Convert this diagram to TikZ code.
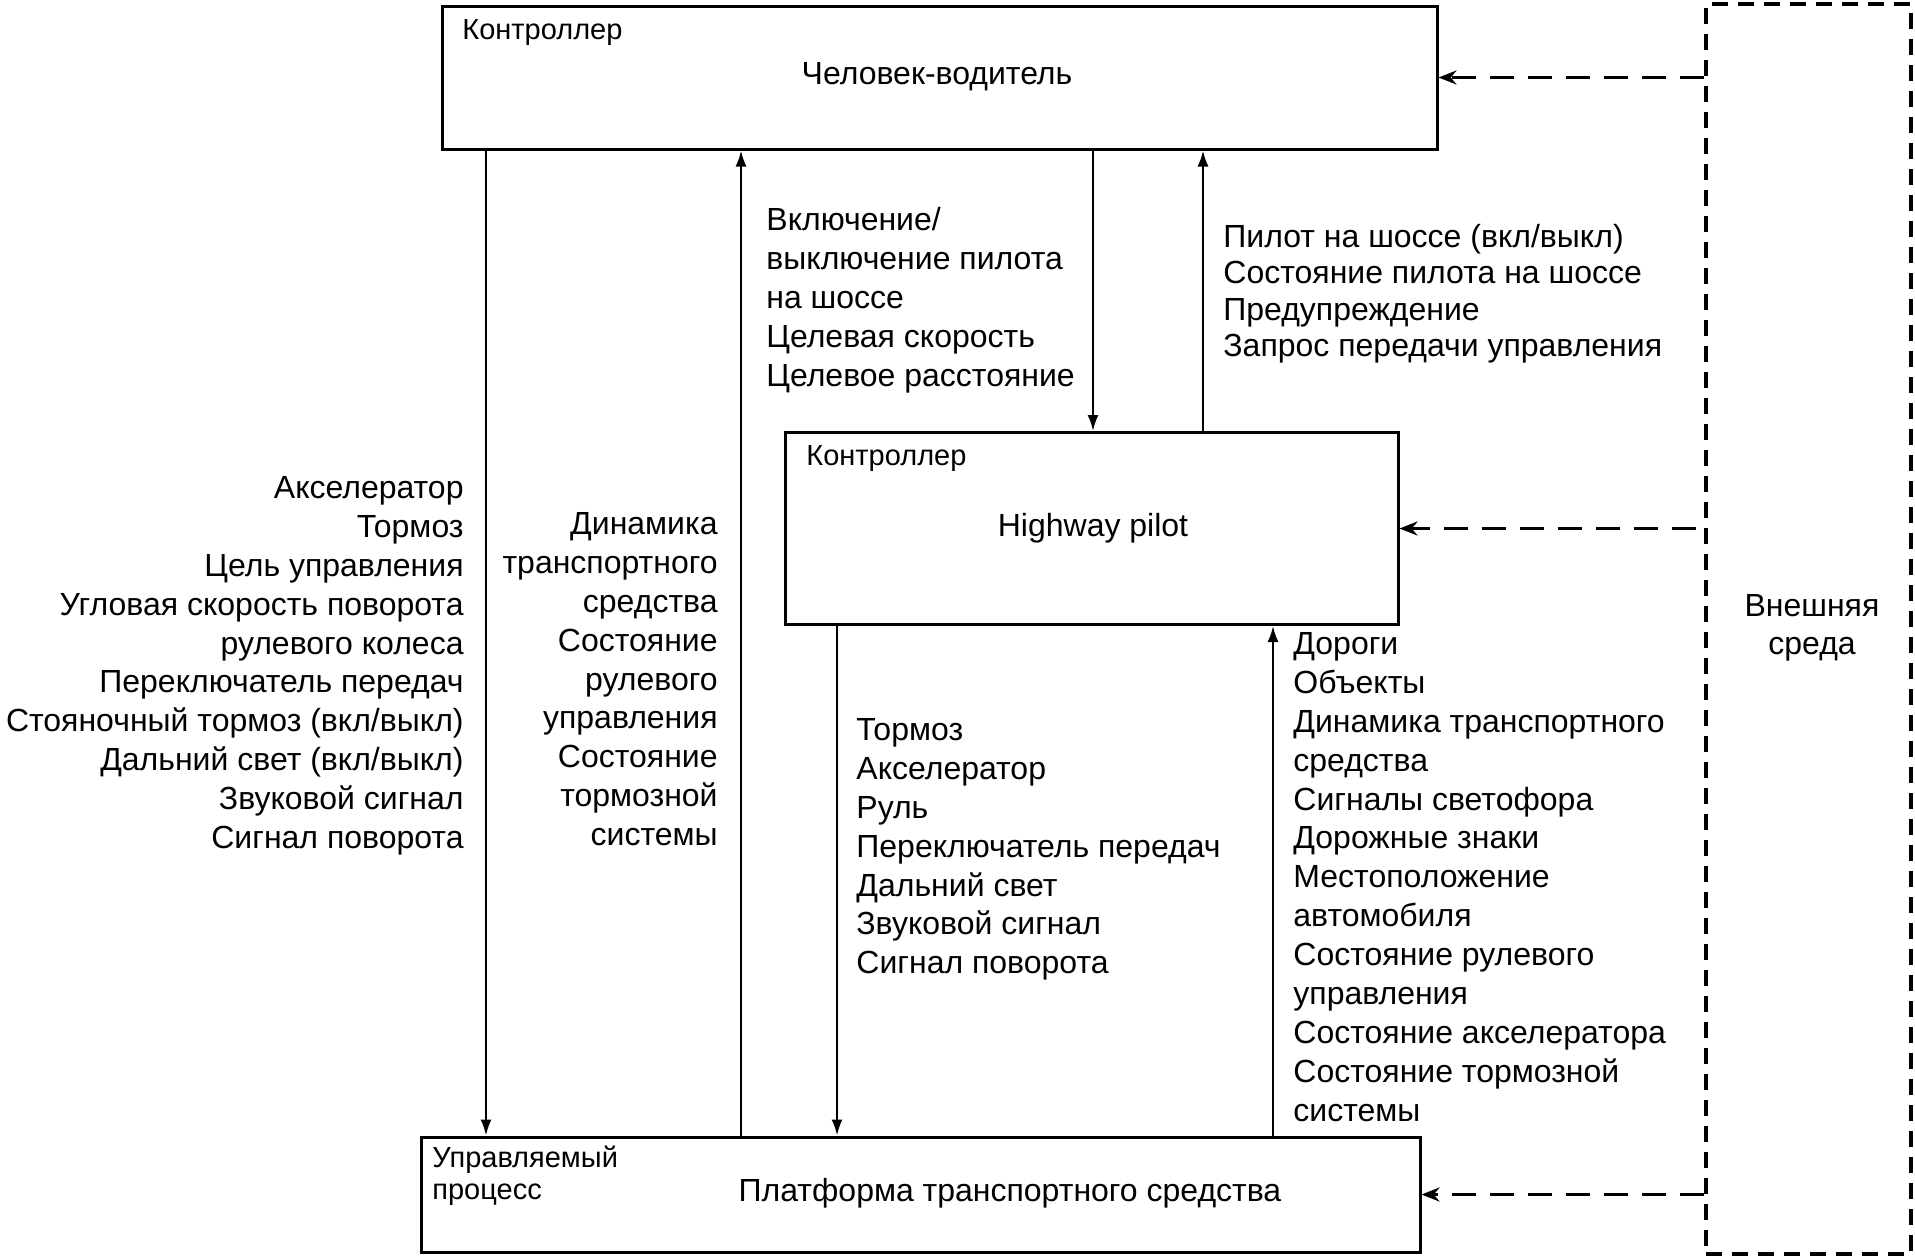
\documentclass[tikz,border=0pt]{standalone}
\usepackage{fontspec}
\setmainfont{Liberation Sans}
\usetikzlibrary{arrows.meta}
\begin{document}
\begin{tikzpicture}[x=0.5pt,y=-0.5pt,
  box/.style={draw, line width=1.5pt, inner sep=0pt},
  envbox/.style={draw, line width=1.6pt, inner sep=0pt, dash pattern=on 8pt off 5pt},
  arr/.style={line width=1.1pt, -{Latex[length=8pt,width=5.5pt]}},
  darr/.style={line width=1.6pt, dash pattern=on 12pt off 7pt, -{Stealth[length=9pt,width=7pt]}},
  lbl/.style={font=\fontsize{16}{19.45}\selectfont, inner sep=0pt},
  small/.style={font=\fontsize{14.5}{16}\selectfont, inner sep=0pt, align=left}
]
\useasboundingbox (0,0) rectangle (1915,1259);
% boxes
\node[box, minimum width=497.5pt, minimum height=71.5pt] (top) at (939.5,77.5) {};
\node[box, minimum width=306.5pt, minimum height=96pt] (hp) at (1091.5,528.5) {};
\node[box, minimum width=499.5pt, minimum height=57.5pt] (bot) at (920.5,1194.5) {};
\node[envbox, minimum width=102.5pt, minimum height=625pt] (env) at (1808.5,629) {};
% box labels
\node[small, anchor=west] (c1) at (462,33) {Контроллер};
\node[lbl] (t1) at (937,77) {Человек-водитель};
\node[small, anchor=west] (c2) at (806,459) {Контроллер};
\node[lbl] (t2) at (1093,528) {Highway pilot};
\node[small, anchor=west] (c3) at (432,1176) {Управляемый\\процесс};
\node[lbl, font=\fontsize{16}{19}\selectfont] (t3) at (1010,1193) {Платформа транспортного средства};
\node[lbl, align=center, font=\fontsize{16}{19}\selectfont] (t4) at (1812,628) {Внешняя\\среда};
% connector x positions
\coordinate (xa) at (486,0);
\coordinate (xb) at (741,0);
\coordinate (xc) at (1093,0);
\coordinate (xd) at (1203,0);
\coordinate (xe) at (837,0);
\coordinate (xf) at (1273,0);
\draw[arr] (top.south -| xa) -- (bot.north -| xa);
\draw[arr] (bot.north -| xb) -- (top.south -| xb);
\draw[arr] (top.south -| xc) -- (hp.north -| xc);
\draw[arr] (hp.north -| xd) -- (top.south -| xd);
\draw[arr] (hp.south -| xe) -- (bot.north -| xe);
\draw[arr] (bot.north -| xf) -- (hp.south -| xf);
% dashed inputs
\draw[darr] (env.west |- top.east) -- (top.east);
\draw[darr] ([xshift=-4pt]env.west |- hp.east) -- (hp.east);
\draw[darr] (env.west |- bot.east) -- (bot.east);
% signal labels
\node[lbl, align=right, anchor=north east] (la) at (464,476) {Акселератор\\Тормоз\\Цель управления\\Угловая скорость поворота\\рулевого колеса\\Переключатель передач\\Стояночный тормоз (вкл/выкл)\\Дальний свет (вкл/выкл)\\Звуковой сигнал\\Сигнал поворота};
\node[lbl, align=right, anchor=north east] (lb) at (718,512) {Динамика\\транспортного\\средства\\Состояние\\рулевого\\управления\\Состояние\\тормозной\\системы};
\node[lbl, align=left, anchor=north west] (lc) at (766,207) {Включение/\\выключение пилота\\на шоссе\\Целевая скорость\\Целевое расстояние};
\node[lbl, align=left, anchor=north west, font=\fontsize{16}{18.15}\selectfont] (ld) at (1223,224) {Пилот на шоссе (вкл/выкл)\\Состояние пилота на шоссе\\Предупреждение\\Запрос передачи управления};
\node[lbl, align=left, anchor=north west] (le) at (856,718) {Тормоз\\Акселератор\\Руль\\Переключатель передач\\Дальний свет\\Звуковой сигнал\\Сигнал поворота};
\node[lbl, align=left, anchor=north west] (lf) at (1293,632) {Дороги\\Объекты\\Динамика транспортного\\средства\\Сигналы светофора\\Дорожные знаки\\Местоположение\\автомобиля\\Состояние рулевого\\управления\\Состояние акселератора\\Состояние тормозной\\системы};
\end{tikzpicture}
\end{document}
